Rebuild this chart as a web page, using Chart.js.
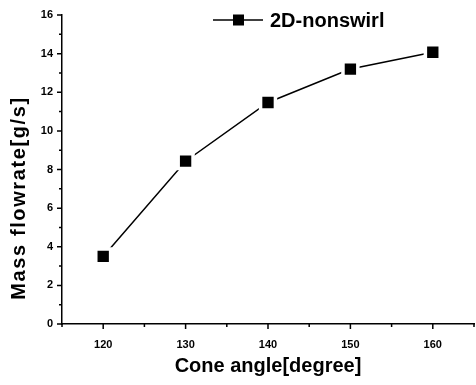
<!DOCTYPE html>
<html>
<head>
<meta charset="utf-8">
<script src="https://cdn.jsdelivr.net/npm/chart.js@4/dist/chart.umd.min.js"></script>
<style>
  html, body { margin: 0; padding: 0; background: #fff; }
  #wrap { width: 476px; height: 385px; }
</style>
</head>
<body>
<div id="wrap"><canvas id="chartFlow"></canvas></div>
<script>
// data
const coneAngle = [120, 130, 140, 150, 160];
const massFlow = [3.5, 8.43, 11.47, 13.2, 14.07];
const seriesLabel = "2D-nonswirl";
const xTitle = "Cone angle[degree]";
const yTitle = "Mass flowrate[g/s]";
const xMajorTicks = [120, 130, 140, 150, 160];
const xMinorTicks = [115, 125, 135, 145, 155, 165];
const yMajorTicks = [0, 2, 4, 6, 8, 10, 12, 14, 16];
const yMinorTicks = [1, 3, 5, 7, 9, 11, 13, 15];

const FONT = "'Liberation Sans', Arial, sans-serif";

// tick keluar + judul Y + legenda ala Origin
const originStyle = {
    id: "originStyle",
    afterDraw(chart) {
        const ctx = chart.ctx;
        const x = chart.scales.x, y = chart.scales.y;
        const area = chart.chartArea;
        ctx.save();
        ctx.strokeStyle = "#000";
        ctx.lineWidth = 1.5;
        ctx.beginPath();
        xMajorTicks.forEach(v => {
            const px = x.getPixelForValue(v);
            ctx.moveTo(px, area.bottom); ctx.lineTo(px, area.bottom + 5);
        });
        xMinorTicks.forEach(v => {
            const px = x.getPixelForValue(v);
            ctx.moveTo(px, area.bottom); ctx.lineTo(px, area.bottom + 3);
        });
        yMajorTicks.forEach(v => {
            const py = y.getPixelForValue(v);
            ctx.moveTo(area.left, py); ctx.lineTo(area.left - 5, py);
        });
        yMinorTicks.forEach(v => {
            const py = y.getPixelForValue(v);
            ctx.moveTo(area.left, py); ctx.lineTo(area.left - 3, py);
        });
        ctx.stroke();

        // judul sumbu Y
        ctx.fillStyle = "#000";
        ctx.font = "bold 20px " + FONT;
        ctx.letterSpacing = "1.6px";
        ctx.textAlign = "center";
        ctx.textBaseline = "middle";
        ctx.translate(19, 198);
        ctx.rotate(-Math.PI / 2);
        ctx.fillText(yTitle, 0, 0);
        ctx.restore();

        // legenda
        ctx.save();
        const ly = 20;
        ctx.strokeStyle = "#000";
        ctx.lineWidth = 1.5;
        ctx.beginPath();
        ctx.moveTo(213, ly); ctx.lineTo(263, ly);
        ctx.stroke();
        ctx.fillStyle = "#000";
        ctx.fillRect(233, ly - 5.5, 11, 11);
        ctx.font = "bold 20px " + FONT;
        ctx.textAlign = "left";
        ctx.textBaseline = "middle";
        ctx.fillText(chart.data.datasets[0].label, 270, ly + 1);
        ctx.restore();
    }
};

const canvas = document.getElementById("chartFlow");
const flowChart = new Chart(canvas.getContext("2d"), {
    type: "line",
    data: {
        datasets: [{
            label: seriesLabel,
            data: coneAngle.map((a, i) => ({ x: a, y: massFlow[i] })),
            borderColor: "#000",
            borderWidth: 1.5,
            pointStyle: "rect",
            pointRadius: 10.5,
            pointHoverRadius: 10.5,
            pointBackgroundColor: "#000",
            pointBorderColor: "#fff",
            pointBorderWidth: 3.5,
            tension: 0
        }]
    },
    options: {
        responsive: true,
        maintainAspectRatio: false,
        animation: false,
        layout: { autoPadding: false, padding: { top: 15, right: 2, left: 0, bottom: 0 } },
        plugins: {
            legend: { display: false },
            tooltip: { enabled: false }
        },
        scales: {
            x: {
                type: "linear",
                min: 115,
                max: 165,
                afterFit: (s) => { s.height = 61; s.paddingLeft = 0; s.paddingRight = 0; },
                grid: { display: false, drawTicks: false },
                border: { display: true, color: "#000", width: 1.5 },
                ticks: {
                    stepSize: 5,
                    padding: 14,
                    color: "#000",
                    font: { family: FONT, size: 11, weight: "bold" },
                    callback: (v) => (v % 10 === 0 ? v : "")
                },
                title: {
                    display: true,
                    text: xTitle,
                    color: "#000",
                    font: { family: FONT, size: 20, weight: "bold" },
                    padding: { top: 0, bottom: 7 }
                }
            },
            y: {
                min: 0,
                max: 16,
                afterFit: (s) => { s.width = 62; s.paddingTop = 0; s.paddingBottom = 0; },
                grid: { display: false, drawTicks: false },
                border: { display: true, color: "#000", width: 1.5 },
                ticks: {
                    stepSize: 2,
                    padding: 9,
                    color: "#000",
                    font: { family: FONT, size: 11, weight: "bold" }
                }
            }
        }
    },
    plugins: [originStyle]
});
</script>
</body>
</html>
